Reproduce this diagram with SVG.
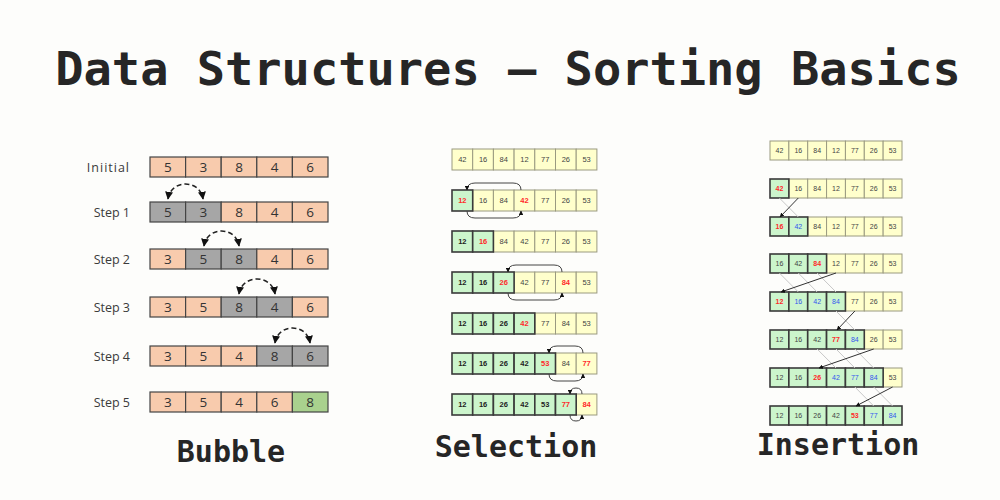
<svg xmlns="http://www.w3.org/2000/svg" width="1000" height="500" viewBox="0 0 1000 500">
<style>
.title{font-family:"DejaVu Sans Mono",monospace;font-weight:bold;fill:#262626}
.cap{font-family:"DejaVu Sans Mono",monospace;font-weight:bold;font-size:30px;fill:#262626;text-anchor:middle}
.lbl{font-family:"Open Sans","Liberation Sans",sans-serif;font-size:12.5px;fill:#3a3a3a;text-anchor:end}
.bp{fill:#F8CBAD;stroke:#444;stroke-width:1.2}
.bg{fill:#A6A6A6;stroke:#444;stroke-width:1.2}
.bgr{fill:#A9D18E;stroke:#444;stroke-width:1.2}
.bt{font-family:"Open Sans","Liberation Sans",sans-serif;font-size:13.5px;fill:#333;text-anchor:middle}
.y{fill:#FFFFCC;stroke:#9a9a80;stroke-width:1}
.g{fill:#CCF5CC;stroke:#3a3a3a;stroke-width:1.6}
.st{font-family:"Liberation Sans",Arial,sans-serif;font-size:7.5px;fill:#444;text-anchor:middle}
.it{font-family:"Liberation Sans",Arial,sans-serif;font-size:7px;fill:#444;text-anchor:middle}
.k{font-weight:bold;fill:#222}
.r{fill:#FF2A2A;font-weight:bold}
.bl{fill:#3355EE}
.arc{fill:none;stroke:#222;stroke-width:1.5;stroke-dasharray:5 3}
.loop{fill:none;stroke:#444;stroke-width:1}
.dk{stroke:#333;stroke-width:1}
.lt{stroke:#c8c8c8;stroke-width:1}
</style>
<defs>
<marker id="ah" viewBox="0 0 10 10" refX="9" refY="5" markerWidth="4.5" markerHeight="4.5" orient="auto-start-reverse" markerUnits="userSpaceOnUse"><path d="M0,0 L10,5 L0,10 z" fill="#111"/></marker>
<marker id="ahb" viewBox="0 0 10 10" refX="9" refY="5" markerWidth="8" markerHeight="8" orient="auto-start-reverse" markerUnits="userSpaceOnUse"><path d="M0,0 L10,5 L0,10 z" fill="#111"/></marker>
</defs>
<rect width="1000" height="500" fill="#FDFDFB"/>
<text class="title" x="508" y="85" font-size="47" text-anchor="middle">Data Structures — Sorting Basics</text>

<!-- Bubble -->
<g id="bubble">
<g id="b-initial">
<text class="lbl" x="130" y="172" letter-spacing="1">Iniitial</text>
<rect class="bp" x="150" y="157" width="35.6" height="20"/><rect class="bp" x="185.6" y="157" width="35.6" height="20"/><rect class="bp" x="221.2" y="157" width="35.6" height="20"/><rect class="bp" x="256.8" y="157" width="35.6" height="20"/><rect class="bp" x="292.4" y="157" width="35.6" height="20"/>
<text class="bt" x="167.8" y="172">5</text><text class="bt" x="203.4" y="172">3</text><text class="bt" x="239" y="172">8</text><text class="bt" x="274.6" y="172">4</text><text class="bt" x="310.2" y="172">6</text>
</g>
<g id="b-step1">
<text class="lbl" x="130" y="217">Step 1</text>
<rect class="bg" x="150" y="202" width="35.6" height="20"/><rect class="bg" x="185.6" y="202" width="35.6" height="20"/><rect class="bp" x="221.2" y="202" width="35.6" height="20"/><rect class="bp" x="256.8" y="202" width="35.6" height="20"/><rect class="bp" x="292.4" y="202" width="35.6" height="20"/>
<text class="bt" x="167.8" y="217">5</text><text class="bt" x="203.4" y="217">3</text><text class="bt" x="239" y="217">8</text><text class="bt" x="274.6" y="217">4</text><text class="bt" x="310.2" y="217">6</text>
</g>
<g id="b-step2">
<text class="lbl" x="130" y="264">Step 2</text>
<rect class="bp" x="150" y="249" width="35.6" height="20"/><rect class="bg" x="185.6" y="249" width="35.6" height="20"/><rect class="bg" x="221.2" y="249" width="35.6" height="20"/><rect class="bp" x="256.8" y="249" width="35.6" height="20"/><rect class="bp" x="292.4" y="249" width="35.6" height="20"/>
<text class="bt" x="167.8" y="264">3</text><text class="bt" x="203.4" y="264">5</text><text class="bt" x="239" y="264">8</text><text class="bt" x="274.6" y="264">4</text><text class="bt" x="310.2" y="264">6</text>
</g>
<g id="b-step3">
<text class="lbl" x="130" y="312">Step 3</text>
<rect class="bp" x="150" y="297" width="35.6" height="20"/><rect class="bp" x="185.6" y="297" width="35.6" height="20"/><rect class="bg" x="221.2" y="297" width="35.6" height="20"/><rect class="bg" x="256.8" y="297" width="35.6" height="20"/><rect class="bp" x="292.4" y="297" width="35.6" height="20"/>
<text class="bt" x="167.8" y="312">3</text><text class="bt" x="203.4" y="312">5</text><text class="bt" x="239" y="312">8</text><text class="bt" x="274.6" y="312">4</text><text class="bt" x="310.2" y="312">6</text>
</g>
<g id="b-step4">
<text class="lbl" x="130" y="361">Step 4</text>
<rect class="bp" x="150" y="346" width="35.6" height="20"/><rect class="bp" x="185.6" y="346" width="35.6" height="20"/><rect class="bp" x="221.2" y="346" width="35.6" height="20"/><rect class="bg" x="256.8" y="346" width="35.6" height="20"/><rect class="bg" x="292.4" y="346" width="35.6" height="20"/>
<text class="bt" x="167.8" y="361">3</text><text class="bt" x="203.4" y="361">5</text><text class="bt" x="239" y="361">4</text><text class="bt" x="274.6" y="361">8</text><text class="bt" x="310.2" y="361">6</text>
</g>
<g id="b-step5">
<text class="lbl" x="130" y="407">Step 5</text>
<rect class="bp" x="150" y="392" width="35.6" height="20"/><rect class="bp" x="185.6" y="392" width="35.6" height="20"/><rect class="bp" x="221.2" y="392" width="35.6" height="20"/><rect class="bp" x="256.8" y="392" width="35.6" height="20"/><rect class="bgr" x="292.4" y="392" width="35.6" height="20"/>
<text class="bt" x="167.8" y="407">3</text><text class="bt" x="203.4" y="407">5</text><text class="bt" x="239" y="407">4</text><text class="bt" x="274.6" y="407">6</text><text class="bt" x="310.2" y="407">8</text>
</g>
<text class="cap" x="231" y="462">Bubble</text>
</g>

<!-- Selection -->
<g id="selection">
<g id="s-row1">
<rect class="y" x="452" y="149" width="20.7" height="21"/><rect class="y" x="472.7" y="149" width="20.7" height="21"/><rect class="y" x="493.4" y="149" width="20.7" height="21"/><rect class="y" x="514.1" y="149" width="20.7" height="21"/><rect class="y" x="534.8" y="149" width="20.7" height="21"/><rect class="y" x="555.5" y="149" width="20.7" height="21"/><rect class="y" x="576.2" y="149" width="20.7" height="21"/>
<text class="st" x="462.35" y="162">42</text><text class="st" x="483.05" y="162">16</text><text class="st" x="503.75" y="162">84</text><text class="st" x="524.45" y="162">12</text><text class="st" x="545.15" y="162">77</text><text class="st" x="565.85" y="162">26</text><text class="st" x="586.55" y="162">53</text>
</g>
<g id="s-row2">
<rect class="y" x="472.7" y="190" width="20.7" height="21"/><rect class="y" x="493.4" y="190" width="20.7" height="21"/><rect class="y" x="514.1" y="190" width="20.7" height="21"/><rect class="y" x="534.8" y="190" width="20.7" height="21"/><rect class="y" x="555.5" y="190" width="20.7" height="21"/><rect class="y" x="576.2" y="190" width="20.7" height="21"/>
<rect class="g" x="452" y="190" width="20.7" height="21"/>
<text class="st r" x="462.35" y="203">12</text><text class="st" x="483.05" y="203">16</text><text class="st" x="503.75" y="203">84</text><text class="st r" x="524.45" y="203">42</text><text class="st" x="545.15" y="203">77</text><text class="st" x="565.85" y="203">26</text><text class="st" x="586.55" y="203">53</text>
</g>
<g id="s-row3">
<rect class="y" x="493.4" y="231" width="20.7" height="21"/><rect class="y" x="514.1" y="231" width="20.7" height="21"/><rect class="y" x="534.8" y="231" width="20.7" height="21"/><rect class="y" x="555.5" y="231" width="20.7" height="21"/><rect class="y" x="576.2" y="231" width="20.7" height="21"/>
<rect class="g" x="452" y="231" width="20.7" height="21"/><rect class="g" x="472.7" y="231" width="20.7" height="21"/>
<text class="st k" x="462.35" y="244">12</text><text class="st r" x="483.05" y="244">16</text><text class="st" x="503.75" y="244">84</text><text class="st" x="524.45" y="244">42</text><text class="st" x="545.15" y="244">77</text><text class="st" x="565.85" y="244">26</text><text class="st" x="586.55" y="244">53</text>
</g>
<g id="s-row4">
<rect class="y" x="514.1" y="272" width="20.7" height="21"/><rect class="y" x="534.8" y="272" width="20.7" height="21"/><rect class="y" x="555.5" y="272" width="20.7" height="21"/><rect class="y" x="576.2" y="272" width="20.7" height="21"/>
<rect class="g" x="452" y="272" width="20.7" height="21"/><rect class="g" x="472.7" y="272" width="20.7" height="21"/><rect class="g" x="493.4" y="272" width="20.7" height="21"/>
<text class="st k" x="462.35" y="285">12</text><text class="st k" x="483.05" y="285">16</text><text class="st r" x="503.75" y="285">26</text><text class="st" x="524.45" y="285">42</text><text class="st" x="545.15" y="285">77</text><text class="st r" x="565.85" y="285">84</text><text class="st" x="586.55" y="285">53</text>
</g>
<g id="s-row5">
<rect class="y" x="534.8" y="313" width="20.7" height="21"/><rect class="y" x="555.5" y="313" width="20.7" height="21"/><rect class="y" x="576.2" y="313" width="20.7" height="21"/>
<rect class="g" x="452" y="313" width="20.7" height="21"/><rect class="g" x="472.7" y="313" width="20.7" height="21"/><rect class="g" x="493.4" y="313" width="20.7" height="21"/><rect class="g" x="514.1" y="313" width="20.7" height="21"/>
<text class="st k" x="462.35" y="326">12</text><text class="st k" x="483.05" y="326">16</text><text class="st k" x="503.75" y="326">26</text><text class="st r" x="524.45" y="326">42</text><text class="st" x="545.15" y="326">77</text><text class="st" x="565.85" y="326">84</text><text class="st" x="586.55" y="326">53</text>
</g>
<g id="s-row6">
<rect class="y" x="555.5" y="353" width="20.7" height="21"/><rect class="y" x="576.2" y="353" width="20.7" height="21"/>
<rect class="g" x="452" y="353" width="20.7" height="21"/><rect class="g" x="472.7" y="353" width="20.7" height="21"/><rect class="g" x="493.4" y="353" width="20.7" height="21"/><rect class="g" x="514.1" y="353" width="20.7" height="21"/><rect class="g" x="534.8" y="353" width="20.7" height="21"/>
<text class="st k" x="462.35" y="366">12</text><text class="st k" x="483.05" y="366">16</text><text class="st k" x="503.75" y="366">26</text><text class="st k" x="524.45" y="366">42</text><text class="st r" x="545.15" y="366">53</text><text class="st" x="565.85" y="366">84</text><text class="st r" x="586.55" y="366">77</text>
</g>
<g id="s-row7">
<rect class="y" x="576.2" y="394" width="20.7" height="21"/>
<rect class="g" x="452" y="394" width="20.7" height="21"/><rect class="g" x="472.7" y="394" width="20.7" height="21"/><rect class="g" x="493.4" y="394" width="20.7" height="21"/><rect class="g" x="514.1" y="394" width="20.7" height="21"/><rect class="g" x="534.8" y="394" width="20.7" height="21"/><rect class="g" x="555.5" y="394" width="20.7" height="21"/>
<text class="st k" x="462.35" y="407">12</text><text class="st k" x="483.05" y="407">16</text><text class="st k" x="503.75" y="407">26</text><text class="st k" x="524.45" y="407">42</text><text class="st k" x="545.15" y="407">53</text><text class="st r" x="565.85" y="407">77</text><text class="st r" x="586.55" y="407">84</text>
</g>
<text class="cap" x="516" y="457">Selection</text>
</g>

<!-- Insertion -->
<g id="insertion">
<g id="i-row1">
<rect class="y" x="770" y="141" width="18.86" height="19"/><rect class="y" x="788.86" y="141" width="18.86" height="19"/><rect class="y" x="807.71" y="141" width="18.86" height="19"/><rect class="y" x="826.57" y="141" width="18.86" height="19"/><rect class="y" x="845.43" y="141" width="18.86" height="19"/><rect class="y" x="864.29" y="141" width="18.86" height="19"/><rect class="y" x="883.14" y="141" width="18.86" height="19"/>
<text class="it" x="779.43" y="153">42</text><text class="it" x="798.29" y="153">16</text><text class="it" x="817.14" y="153">84</text><text class="it" x="836" y="153">12</text><text class="it" x="854.86" y="153">77</text><text class="it" x="873.71" y="153">26</text><text class="it" x="892.57" y="153">53</text>
</g>
<g id="i-row2">
<rect class="y" x="788.86" y="179" width="18.86" height="19"/><rect class="y" x="807.71" y="179" width="18.86" height="19"/><rect class="y" x="826.57" y="179" width="18.86" height="19"/><rect class="y" x="845.43" y="179" width="18.86" height="19"/><rect class="y" x="864.29" y="179" width="18.86" height="19"/><rect class="y" x="883.14" y="179" width="18.86" height="19"/>
<rect class="g" x="770" y="179" width="18.86" height="19"/>
<text class="it r" x="779.43" y="191">42</text><text class="it" x="798.29" y="191">16</text><text class="it" x="817.14" y="191">84</text><text class="it" x="836" y="191">12</text><text class="it" x="854.86" y="191">77</text><text class="it" x="873.71" y="191">26</text><text class="it" x="892.57" y="191">53</text>
</g>
<g id="i-row3">
<rect class="y" x="807.71" y="217" width="18.86" height="19"/><rect class="y" x="826.57" y="217" width="18.86" height="19"/><rect class="y" x="845.43" y="217" width="18.86" height="19"/><rect class="y" x="864.29" y="217" width="18.86" height="19"/><rect class="y" x="883.14" y="217" width="18.86" height="19"/>
<rect class="g" x="770" y="217" width="18.86" height="19"/><rect class="g" x="788.86" y="217" width="18.86" height="19"/>
<text class="it r" x="779.43" y="229">16</text><text class="it bl" x="798.29" y="229">42</text><text class="it" x="817.14" y="229">84</text><text class="it" x="836" y="229">12</text><text class="it" x="854.86" y="229">77</text><text class="it" x="873.71" y="229">26</text><text class="it" x="892.57" y="229">53</text>
</g>
<g id="i-row4">
<rect class="y" x="826.57" y="254" width="18.86" height="19"/><rect class="y" x="845.43" y="254" width="18.86" height="19"/><rect class="y" x="864.29" y="254" width="18.86" height="19"/><rect class="y" x="883.14" y="254" width="18.86" height="19"/>
<rect class="g" x="770" y="254" width="18.86" height="19"/><rect class="g" x="788.86" y="254" width="18.86" height="19"/><rect class="g" x="807.71" y="254" width="18.86" height="19"/>
<text class="it" x="779.43" y="266">16</text><text class="it" x="798.29" y="266">42</text><text class="it r" x="817.14" y="266">84</text><text class="it" x="836" y="266">12</text><text class="it" x="854.86" y="266">77</text><text class="it" x="873.71" y="266">26</text><text class="it" x="892.57" y="266">53</text>
</g>
<g id="i-row5">
<rect class="y" x="845.43" y="292" width="18.86" height="19"/><rect class="y" x="864.29" y="292" width="18.86" height="19"/><rect class="y" x="883.14" y="292" width="18.86" height="19"/>
<rect class="g" x="770" y="292" width="18.86" height="19"/><rect class="g" x="788.86" y="292" width="18.86" height="19"/><rect class="g" x="807.71" y="292" width="18.86" height="19"/><rect class="g" x="826.57" y="292" width="18.86" height="19"/>
<text class="it r" x="779.43" y="304">12</text><text class="it bl" x="798.29" y="304">16</text><text class="it bl" x="817.14" y="304">42</text><text class="it bl" x="836" y="304">84</text><text class="it" x="854.86" y="304">77</text><text class="it" x="873.71" y="304">26</text><text class="it" x="892.57" y="304">53</text>
</g>
<g id="i-row6">
<rect class="y" x="864.29" y="330" width="18.86" height="19"/><rect class="y" x="883.14" y="330" width="18.86" height="19"/>
<rect class="g" x="770" y="330" width="18.86" height="19"/><rect class="g" x="788.86" y="330" width="18.86" height="19"/><rect class="g" x="807.71" y="330" width="18.86" height="19"/><rect class="g" x="826.57" y="330" width="18.86" height="19"/><rect class="g" x="845.43" y="330" width="18.86" height="19"/>
<text class="it" x="779.43" y="342">12</text><text class="it" x="798.29" y="342">16</text><text class="it" x="817.14" y="342">42</text><text class="it r" x="836" y="342">77</text><text class="it bl" x="854.86" y="342">84</text><text class="it" x="873.71" y="342">26</text><text class="it" x="892.57" y="342">53</text>
</g>
<g id="i-row7">
<rect class="y" x="883.14" y="368" width="18.86" height="19"/>
<rect class="g" x="770" y="368" width="18.86" height="19"/><rect class="g" x="788.86" y="368" width="18.86" height="19"/><rect class="g" x="807.71" y="368" width="18.86" height="19"/><rect class="g" x="826.57" y="368" width="18.86" height="19"/><rect class="g" x="845.43" y="368" width="18.86" height="19"/><rect class="g" x="864.29" y="368" width="18.86" height="19"/>
<text class="it" x="779.43" y="380">12</text><text class="it" x="798.29" y="380">16</text><text class="it r" x="817.14" y="380">26</text><text class="it bl" x="836" y="380">42</text><text class="it bl" x="854.86" y="380">77</text><text class="it bl" x="873.71" y="380">84</text><text class="it" x="892.57" y="380">53</text>
</g>
<g id="i-row8">
<rect class="g" x="770" y="406" width="18.86" height="19"/><rect class="g" x="788.86" y="406" width="18.86" height="19"/><rect class="g" x="807.71" y="406" width="18.86" height="19"/><rect class="g" x="826.57" y="406" width="18.86" height="19"/><rect class="g" x="845.43" y="406" width="18.86" height="19"/><rect class="g" x="864.29" y="406" width="18.86" height="19"/><rect class="g" x="883.14" y="406" width="18.86" height="19"/>
<text class="it" x="779.43" y="418">12</text><text class="it" x="798.29" y="418">16</text><text class="it" x="817.14" y="418">26</text><text class="it" x="836" y="418">42</text><text class="it r" x="854.86" y="418">53</text><text class="it bl" x="873.71" y="418">77</text><text class="it bl" x="892.57" y="418">84</text>
</g>
<text class="cap" x="838" y="455">Insertion</text>
</g>

<!-- Connectors -->
<g id="connectors">
<path class="arc" d="M168 199 C171 179 200 179 203 199" marker-start="url(#ahb)" marker-end="url(#ahb)"/>
<path class="arc" d="M204 246 C207 226 236 226 239 246" marker-start="url(#ahb)" marker-end="url(#ahb)"/>
<path class="arc" d="M239 294 C242 274 272 274 275 294" marker-start="url(#ahb)" marker-end="url(#ahb)"/>
<path class="arc" d="M275 343 C278 323 307 323 310 343" marker-start="url(#ahb)" marker-end="url(#ahb)"/>

<path class="loop" d="M521 190 Q521 183 513 183 L475 183 Q467 183 467 190" marker-end="url(#ah)"/>
<path class="loop" d="M467 211 Q467 218 475 218 L513 218 Q521 218 521 211" marker-end="url(#ah)"/>
<path class="loop" d="M562 272 Q562 265 554 265 L516 265 Q508 265 508 272" marker-end="url(#ah)"/>
<path class="loop" d="M508 293 Q508 300 516 300 L554 300 Q562 300 562 293" marker-end="url(#ah)"/>
<path class="loop" d="M583 353 Q583 346 575 346 L557 346 Q549 346 549 353" marker-end="url(#ah)"/>
<path class="loop" d="M549 374 Q549 381 557 381 L575 381 Q583 381 583 374" marker-end="url(#ah)"/>
<path class="loop" d="M582 394 Q582 388 576 388 Q570 388 570 394" marker-end="url(#ah)"/>
<path class="loop" d="M570 415 Q570 421 576 421 Q582 421 582 415" marker-end="url(#ah)"/>

<line class="lt" x1="779.4" y1="198" x2="798.3" y2="217"/>
<line class="dk" x1="798.3" y1="198" x2="780" y2="217" marker-end="url(#ah)"/>
<line class="lt" x1="779.4" y1="273" x2="798.3" y2="292"/>
<line class="lt" x1="798.3" y1="273" x2="817.1" y2="292"/>
<line class="lt" x1="817.1" y1="273" x2="836" y2="292"/>
<line class="dk" x1="836" y1="273" x2="781" y2="292" marker-end="url(#ah)"/>
<line class="lt" x1="836" y1="311" x2="854.9" y2="330"/>
<line class="dk" x1="854.9" y1="311" x2="837" y2="330" marker-end="url(#ah)"/>
<line class="lt" x1="817.1" y1="349" x2="836" y2="368"/>
<line class="lt" x1="836" y1="349" x2="854.9" y2="368"/>
<line class="lt" x1="854.9" y1="349" x2="873.7" y2="368"/>
<line class="dk" x1="873.7" y1="349" x2="819" y2="368" marker-end="url(#ah)"/>
<line class="lt" x1="854.9" y1="387" x2="873.7" y2="406"/>
<line class="lt" x1="873.7" y1="387" x2="892.6" y2="406"/>
<line class="dk" x1="892.6" y1="387" x2="856" y2="406" marker-end="url(#ah)"/>
</g>
</svg>
